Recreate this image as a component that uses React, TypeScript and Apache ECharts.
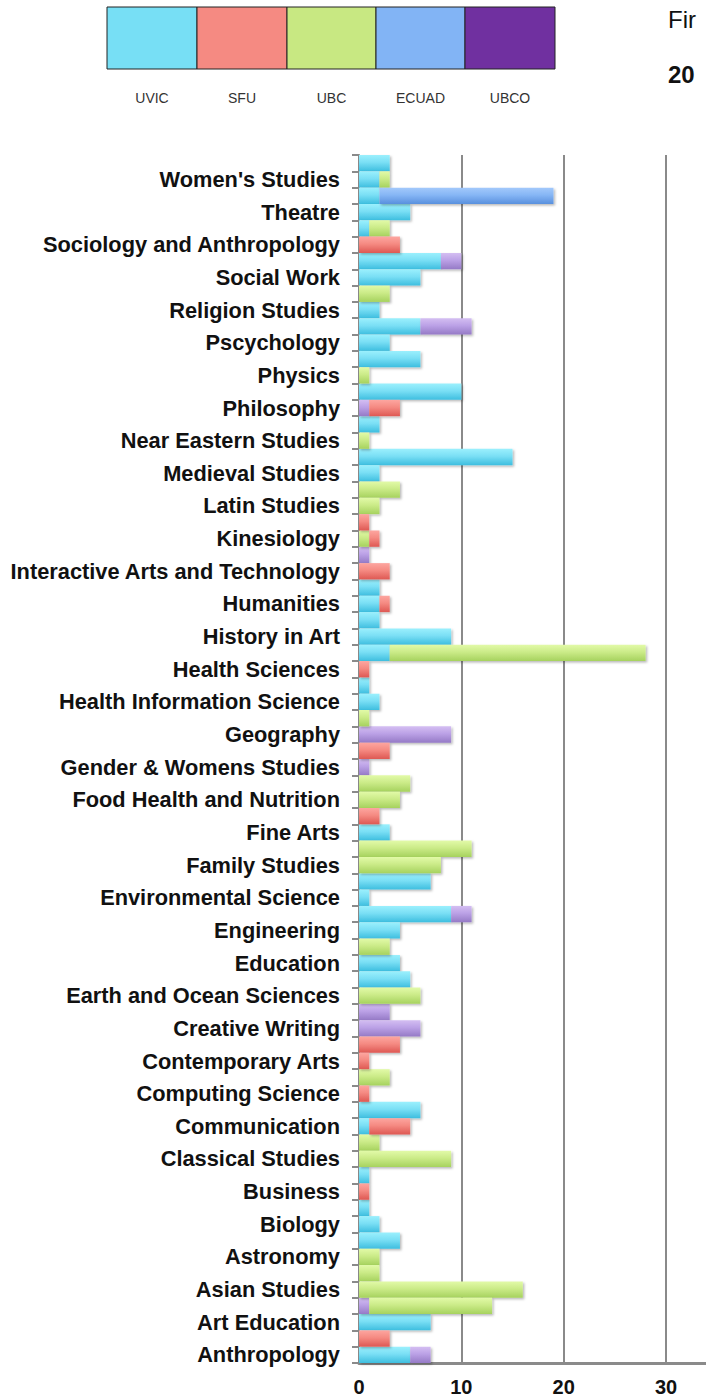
import React, { useEffect, useRef } from "react";
import * as echarts from "echarts";

const _ = null;

// Subjects, top to bottom (each subject owns two rows; the label sits on the second)
const SUBJECTS = [
  "Women's Studies", "Theatre", "Sociology and Anthropology", "Social Work", "Religion Studies",
  "Pscychology", "Physics", "Philosophy", "Near Eastern Studies", "Medieval Studies",
  "Latin Studies", "Kinesiology", "Interactive Arts and Technology", "Humanities", "History in Art",
  "Health Sciences", "Health Information Science", "Geography", "Gender & Womens Studies",
  "Food Health and Nutrition", "Fine Arts", "Family Studies", "Environmental Science", "Engineering",
  "Education", "Earth and Ocean Sciences", "Creative Writing", "Contemporary Arts", "Computing Science",
  "Communication", "Classical Studies", "Business", "Biology", "Astronomy", "Asian Studies",
  "Art Education", "Anthropology",
];

// Row values, top to bottom (74 rows)
const UVIC = [
  3, 2, 2, 5, 1, _, 8, 6, _, 2,
  6, 3, 6, _, 10, _, 2, _, 15, 2,
  _, _, _, _, _, _, 2, 2, 2, 9,
  3, _, 1, 2, _, _, _, _, _, _,
  _, 3, _, _, 7, 1, 9, 4, _, 4,
  5, _, _, _, _, _, _, _, 6, 1,
  _, _, 1, _, 1, 2, 4, _, _, _,
  _, 7, _, 5,
];
const UBCO = [
  _, _, _, _, _, _, 2, _, _, _,
  5, _, _, _, _, 1, _, _, _, _,
  _, _, _, _, 1, _, _, _, _, _,
  _, _, _, _, _, 9, _, 1, _, _,
  _, _, _, _, _, _, 2, _, _, _,
  _, _, 3, 6, _, _, _, _, _, _,
  _, _, _, _, _, _, _, _, _, _,
  1, _, _, 2,
];
const UBC = [
  _, 1, _, _, 2, _, _, _, 3, _,
  _, _, _, 1, _, _, _, 1, _, _,
  4, 2, _, 1, _, _, _, _, _, _,
  25, _, _, _, 1, _, _, _, 5, 4,
  _, _, 11, 8, _, _, _, _, 3, _,
  _, 6, _, _, _, _, 3, _, _, _,
  2, 9, _, _, _, _, _, 2, 2, 16,
  12, _, _, _,
];
const SFU = [
  _, _, _, _, _, 4, _, _, _, _,
  _, _, _, _, _, 3, _, _, _, _,
  _, _, 1, 1, _, 3, _, 1, _, _,
  _, 1, _, _, _, _, 3, _, _, _,
  2, _, _, _, _, _, _, _, _, _,
  _, _, _, _, 4, 1, _, 1, _, 4,
  _, _, _, 1, _, _, _, _, _, _,
  _, _, 3, _,
];
const ECUAD = [
  _, _, 17, _, _, _, _, _, _, _,
  _, _, _, _, _, _, _, _, _, _,
  _, _, _, _, _, _, _, _, _, _,
  _, _, _, _, _, _, _, _, _, _,
  _, _, _, _, _, _, _, _, _, _,
  _, _, _, _, _, _, _, _, _, _,
  _, _, _, _, _, _, _, _, _, _,
  _, _, _, _,
];

const LEGEND_NAMES = ["UVIC", "SFU", "UBC", "ECUAD", "UBCO"];
const LEGEND_COLORS = ["#77DFF5", "#F58A82", "#C8E882", "#82B4F5", "#7030A0"];

const X_MIN = 0;
const X_MAX = 33.9;
const X_STEP = 10;

const FONT = "'Liberation Sans', Arial, Helvetica, sans-serif";

function grad(top: string, mid: string, bottom: string) {
  return new echarts.graphic.LinearGradient(0, 0, 0, 1, [
    { offset: 0, color: top },
    { offset: 0.45, color: mid },
    { offset: 1, color: bottom },
  ]);
}

export default function App() {
  const ref = useRef<HTMLDivElement>(null);

  useEffect(() => {
    if (!ref.current) return;
    const chart = echarts.init(ref.current, undefined, { renderer: "svg" });

    const rows: string[] = [];
    SUBJECTS.forEach((s, i) => {
      rows.push(`row-${i}`);
      rows.push(s);
    });

    const shadow = {
      shadowColor: "rgba(0,0,0,0.28)",
      shadowBlur: 2,
      shadowOffsetX: 1.5,
      shadowOffsetY: 1.5,
    };

    const mk = (name: string, data: (number | null)[], color: any) => ({
      name,
      type: "bar",
      stack: "total",
      data: data.map((v) => (v == null ? "-" : v)),
      barCategoryGap: "0%",
      itemStyle: { color, ...shadow },
      emphasis: { disabled: true },
    });

    const cellX = [107, 197, 287, 376, 465, 555];
    const legendGraphics: any[] = [];
    LEGEND_NAMES.forEach((n, i) => {
      legendGraphics.push({
        type: "rect",
        shape: { x: cellX[i], y: 7, width: cellX[i + 1] - cellX[i], height: 62 },
        style: { fill: LEGEND_COLORS[i], stroke: "#222", lineWidth: 1 },
      });
      legendGraphics.push({
        type: "text",
        x: (cellX[i] + cellX[i + 1]) / 2,
        y: 98,
        style: {
          text: n,
          fill: "#333",
          font: `14px ${FONT}`,
          textAlign: "center",
          textVerticalAlign: "middle",
        },
      });
    });
    legendGraphics.push({
      type: "text",
      x: 668,
      y: 19,
      style: { text: "Fir", fill: "#111", font: `24px ${FONT}`, textVerticalAlign: "middle" },
    });
    legendGraphics.push({
      type: "text",
      x: 668,
      y: 74,
      style: { text: "20", fill: "#111", font: `bold 24px ${FONT}`, textVerticalAlign: "middle" },
    });

    chart.setOption({
      animation: false,
      backgroundColor: "#ffffff",
      grid: { left: 359, top: 155, right: 0, height: 1208, containLabel: false },
      xAxis: {
        type: "value",
        min: X_MIN,
        max: X_MAX,
        interval: X_STEP,
        axisLine: { show: true, lineStyle: { color: "#8a8a8a", width: 3 } },
        axisTick: { show: false },
        axisLabel: {
          showMaxLabel: false,
          margin: 14,
          color: "#111",
          fontWeight: "bold",
          fontSize: 20,
          fontFamily: FONT,
          formatter: (v: number) => (v % X_STEP === 0 ? String(v) : ""),
        },
        splitLine: {
          show: true,
          lineStyle: {
            color: ["#8a8a8a", "#8a8a8a", "#8a8a8a", "#8a8a8a", "rgba(0,0,0,0)"],
            width: 2,
          },
        },
      },
      yAxis: {
        type: "category",
        inverse: true,
        data: rows,
        axisLine: { show: true, lineStyle: { color: "#8a8a8a", width: 2 } },
        axisTick: { show: true, interval: 0, length: 7, lineStyle: { color: "#8a8a8a", width: 2 } },
        axisLabel: {
          interval: (index: number) => index % 2 === 1,
          margin: 19,
          color: "#111",
          fontWeight: "bold",
          fontSize: 21.8,
          fontFamily: FONT,
        },
        splitLine: { show: false },
      },
      series: [
        mk("UVIC", UVIC, grad("#9BF0FD", "#7ADFF5", "#3EBEDF")),
        mk("UBCO", UBCO, grad("#D4BEF2", "#BBA1E6", "#957AC6")),
        mk("UBC", UBC, grad("#E2FAA8", "#CBEB88", "#A6D25E")),
        mk("SFU", SFU, grad("#FDA6A0", "#F58A82", "#DE5853")),
        mk("ECUAD", ECUAD, grad("#A3C9FB", "#86B6F5", "#5890DE")),
      ],
      graphic: legendGraphics,
    });

    return () => chart.dispose();
  }, []);

  return (
    <div
      ref={ref}
      style={{ position: "absolute", left: 0, top: 0, width: 706, height: 1398 }}
    />
  );
}
